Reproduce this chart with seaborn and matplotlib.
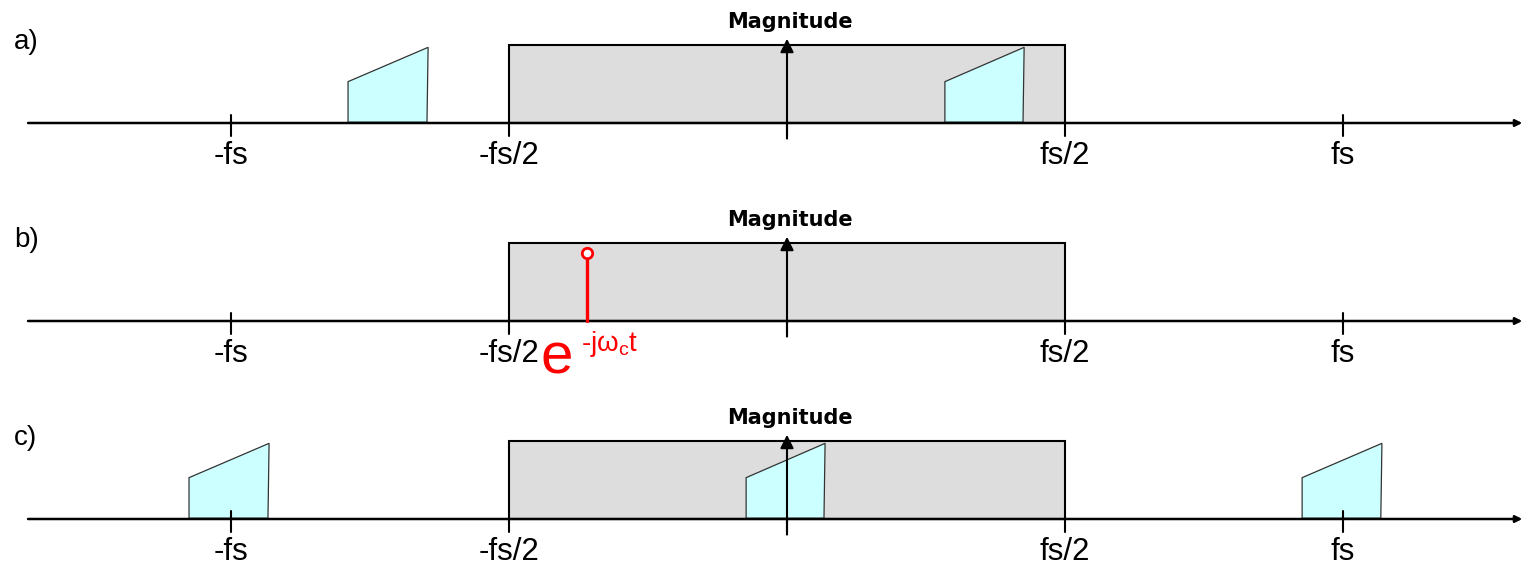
import matplotlib.pyplot as plt
import seaborn as sns

# frequency axis in units of fs/2 (so fs = 2)
tick_pos = [-2, -1, 0, 1, 2]
tick_labels = ["-fs", "-fs/2", "", "fs/2", "fs"]
panel_names = ["a)", "b)", "c)"]

# Nyquist band (grey box)
band_lo, band_hi, band_h = -1.0, 1.0, 1.0

# signal images (trapezoids): left edge, right edge, left height, right height
a_left = [-1.579, 0.568]
a_right = [-1.291, 0.853]
c_left = [-2.151, -0.147, 1.853]
c_right = [-1.863, 0.137, 2.140]
low_h = 0.53
high_h = 0.97

# mixing tone in b)
tone_f = -0.719
tone_h = 0.87

sns.set_theme(style="white")
plt.rcParams["font.family"] = ["Liberation Sans", "DejaVu Sans"]

W, H = 1524, 566
fig = plt.figure(figsize=(W / 100, H / 100), dpi=100)

px_unit = 278.0          # pixels per fs/2
y_unit = 78.0            # pixels per unit height
x0 = 787.0               # pixel of f = 0
xlim = (-x0 / px_unit, (W - x0) / px_unit)
ylo, yhi = -1.1, 1.5
baselines = [123, 321, 519]

axes = []
for b in baselines:
    bottom = 1 - (b - ylo * y_unit) / H
    height = (yhi - ylo) * y_unit / H
    ax = fig.add_axes([0, bottom, 1, height])
    ax.set_xlim(*xlim)
    ax.set_ylim(ylo, yhi)
    ax.axis("off")
    ax.patch.set_alpha(0)
    axes.append(ax)


def draw_base(ax, name):
    ax.bar((band_lo + band_hi) / 2, band_h, width=band_hi - band_lo, bottom=0,
           color="#DDDDDD", edgecolor="black", linewidth=1.5, zorder=1)
    # frequency axis with arrow
    ax.annotate("", xy=(2.645, 0), xytext=(-2.73, 0),
                arrowprops=dict(arrowstyle="-|>", color="black", lw=1.8,
                                mutation_scale=10, shrinkA=0, shrinkB=0),
                zorder=4)
    for p, lab in zip(tick_pos, tick_labels):
        top = 0.1 if abs(p) == 2 else 0.0
        ax.plot([p, p], [top, -0.17], color="black", lw=1.5, zorder=4)
        if lab:
            ax.text(p, -0.42, lab, ha="center", va="center", fontsize=22.5,
                    color="black")
    # magnitude arrow
    ax.annotate("", xy=(0, 1.08), xytext=(0, -0.2),
                arrowprops=dict(arrowstyle="-|>", color="black", lw=1.5,
                                mutation_scale=20, shrinkA=0, shrinkB=0),
                zorder=5)
    ax.text(0.01, 1.3, "Magnitude", ha="center", va="center", fontsize=15,
            family="DejaVu Sans", fontweight="bold", color="black")
    ax.text(-2.78, 1.04, name, ha="left", va="center", fontsize=20,
            color="black")


def draw_images(ax, lefts, rights):
    for l, r in zip(lefts, rights):
        ax.fill([l, l, r, r - 0.004], [0.01, low_h, high_h, 0.01],
                facecolor="#CCFFFF", edgecolor="#333333", linewidth=0.9,
                zorder=3)


for ax, name in zip(axes, panel_names):
    draw_base(ax, name)

draw_images(axes[0], a_left, a_right)
draw_images(axes[2], c_left, c_right)

# tone in b)
axb = axes[1]
axb.plot([tone_f, tone_f], [0, tone_h - 0.07], color="red", lw=2.4, zorder=6)
axb.plot([tone_f], [tone_h], marker="o", markersize=7.5, markerfacecolor="white",
         markeredgecolor="red", markeredgewidth=2, zorder=7)
axb.text(-0.885, -0.667, "e", ha="left", va="baseline", fontsize=42,
         color="red")
axb.text(-0.742, -0.38, r"-j$\mathregular{\omega_c}$t", ha="left",
         va="baseline", fontsize=20, color="red")

fig.savefig("out.png", dpi=100)
plt.close(fig)
